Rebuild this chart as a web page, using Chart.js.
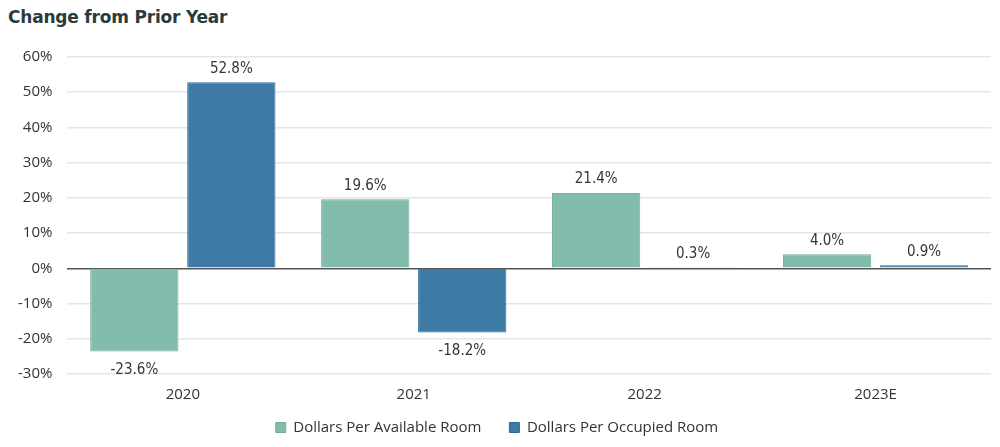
<!DOCTYPE html>
<html>
<head>
<meta charset="utf-8">
<script src="https://cdn.jsdelivr.net/npm/chart.js@4"></script>
<style>
  html, body { margin: 0; padding: 0; background: #fff; }
  #wrap { position: relative; width: 1000px; height: 447px; }
  #title { position: absolute; left: 8px; top: 7px; font: bold 17px "DejaVu Sans", sans-serif; color: #2b3a3c; letter-spacing: -0.2px; }
  #chartBox { position: absolute; left: 0; top: 33px; width: 1000px; height: 414px; }
</style>
</head>
<body>
<div id="wrap">
  <div id="title">Change from Prior Year</div>
  <div id="chartBox"><canvas id="myBarChart"></canvas></div>
</div>
<script>
// chart data
var years = ['2020', '2021', '2022', '2023E'];
var availableRoom = [-23.6, 19.6, 21.4, 4.0];
var occupiedRoom = [52.8, -18.2, 0.3, 0.9];
var seriesNames = ['Dollars Per Available Room', 'Dollars Per Occupied Room'];

// value labels above / below each bar
var valueLabels = {
    id: 'valueLabels',
    afterDatasetsDraw: function (chart) {
        var ctx = chart.ctx;
        ctx.save();
        ctx.font = '15px "DejaVu Sans Condensed", "DejaVu Sans", sans-serif';
        if ('fontStretch' in ctx) ctx.fontStretch = 'condensed';
        ctx.fillStyle = '#363636';
        ctx.textAlign = 'center';
        chart.data.datasets.forEach(function (ds, i) {
            chart.getDatasetMeta(i).data.forEach(function (bar, j) {
                var v = ds.data[j];
                var txt = v.toFixed(1) + '%';
                if (v >= 0) {
                    ctx.textBaseline = 'bottom';
                    ctx.fillText(txt, bar.x, bar.y - 6);
                } else {
                    ctx.textBaseline = 'top';
                    ctx.fillText(txt, bar.x, bar.y + 11);
                }
            });
        });
        ctx.restore();
    }
};

// keep wide spacing between legend items without a tall legend box
var LEGEND_H = 39, LEGEND_SHIFT = 16;
var compactLegend = {
    id: 'compactLegend',
    afterInit: function (chart) {
        var lg = chart.legend;
        if (!lg) return;
        var fit = lg.fit, draw = lg._draw;
        lg.fit = function () {
            fit.call(this);
            this.height = LEGEND_H;
        };
        lg._draw = function () {
            var t = this.top;
            this.top = t - LEGEND_SHIFT;
            draw.call(this);
            this.top = t;
        };
    }
};

var ctx = document.getElementById('myBarChart').getContext('2d');
var myBarChart = new Chart(ctx, {
    type: 'bar',
    data: {
        labels: years,
        datasets: [{
            label: seriesNames[0],
            data: availableRoom,
            backgroundColor: '#82bcad',
            borderColor: '#74ae9f',
            borderWidth: 1
        }, {
            label: seriesNames[1],
            data: occupiedRoom,
            backgroundColor: '#3e7aa6',
            borderColor: '#2f6a94',
            borderWidth: 1
        }]
    },
    options: {
        responsive: true,
        maintainAspectRatio: false,
        animation: false,
        layout: { padding: { left: 3, right: 9, top: 0, bottom: 0 } },
        datasets: {
            bar: { categoryPercentage: 0.84, barPercentage: 0.91 }
        },
        scales: {
            x: {
                grid: { display: false },
                border: { display: false },
                ticks: {
                    color: '#333',
                    font: { family: '"Open Sans", "DejaVu Sans", sans-serif', size: 15 },
                    padding: 4
                }
            },
            y: {
                min: -30,
                max: 60,
                ticks: {
                    stepSize: 10,
                    color: '#333',
                    padding: 15,
                    font: { family: '"Open Sans", "DejaVu Sans", sans-serif', size: 15 },
                    callback: function (v) { return v + '%'; }
                },
                border: { display: false },
                grid: {
                    drawTicks: false,
                    lineWidth: 1.5,
                    color: function (c) { return c.tick && c.tick.value === 0 ? '#555' : '#e6e6e6'; }
                }
            }
        },
        plugins: {
            legend: {
                position: 'bottom',
                labels: {
                    boxWidth: 10,
                    boxHeight: 10,
                    padding: 28,
                    color: '#333',
                    font: { family: '"Open Sans", "DejaVu Sans", sans-serif', size: 15 }
                }
            },
            tooltip: { enabled: false }
        }
    },
    plugins: [valueLabels, compactLegend]
});
</script>
</body>
</html>
